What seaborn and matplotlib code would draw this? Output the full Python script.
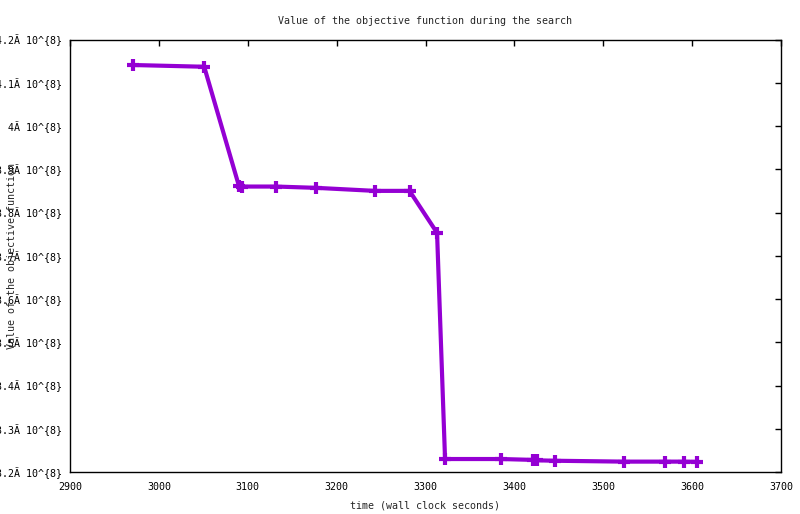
import matplotlib
matplotlib.use("Agg")
import matplotlib.pyplot as plt
import seaborn as sns
import pandas as pd

# values
time_s = [2971, 3051, 3090, 3093, 3132, 3177, 3243, 3282, 3313, 3322,
          3385, 3421, 3426, 3446, 3523, 3570, 3591, 3606]
objective = [4.141e8, 4.137e8, 3.862e8, 3.860e8, 3.860e8, 3.857e8, 3.850e8,
             3.850e8, 3.753e8, 3.230e8, 3.230e8, 3.228e8, 3.227e8, 3.226e8,
             3.224e8, 3.224e8, 3.224e8, 3.2235e8]

x_ticks = [2900, 3000, 3100, 3200, 3300, 3400, 3500, 3600, 3700]
y_ticks = [3.2e8, 3.3e8, 3.4e8, 3.5e8, 3.6e8, 3.7e8, 3.8e8, 3.9e8, 4.0e8, 4.1e8, 4.2e8]
y_tick_labels = ["3.2Ã 10^{8}", "3.3Ã 10^{8}", "3.4Ã 10^{8}", "3.5Ã 10^{8}",
                 "3.6Ã 10^{8}", "3.7Ã 10^{8}", "3.8Ã 10^{8}", "3.9Ã 10^{8}",
                 "4Ã 10^{8}", "4.1Ã 10^{8}", "4.2Ã 10^{8}"]

df = pd.DataFrame({"time": time_s, "objective": objective})

sns.set_theme(style="white")
plt.rcParams['font.family'] = ['DejaVu Sans Mono', 'DejaVu Sans']
plt.rcParams['font.size'] = 7.2

fig = plt.figure(figsize=(8, 5.14), dpi=100)
ax = fig.add_axes([70 / 800, 42 / 514, 711 / 800, 432.5 / 514])

sns.lineplot(data=df, x="time", y="objective", ax=ax, color="#9400d3",
             linewidth=3, marker="+", markersize=9, markeredgewidth=3,
             markeredgecolor="#9400d3", sort=False)

ax.set_xlim(2900, 3700)
ax.set_ylim(3.2e8, 4.2e8)
ax.set_xticks(x_ticks)
ax.set_xticklabels([str(t) for t in x_ticks])
ax.set_yticks(y_ticks)
ax.set_yticklabels(y_tick_labels)

for side in ax.spines.values():
    side.set_color("black")
    side.set_linewidth(1)

ax.tick_params(direction="in", length=4, width=1, colors="black",
               top=True, right=True, labelsize=7.2)
ax.tick_params(axis="x", pad=7)
ax.tick_params(axis="y", pad=6)

ax.set_title("Value of the objective function during the search",
             fontsize=7.2, pad=11)
ax.set_xlabel("time (wall clock seconds)", fontsize=7.2, labelpad=6)
ax.set_ylabel("Value of the objective function", fontsize=7.2, va="center")
ax.yaxis.set_label_coords(-0.082, 0.5)

fig.savefig("out.png", dpi=100)
plt.close(fig)
